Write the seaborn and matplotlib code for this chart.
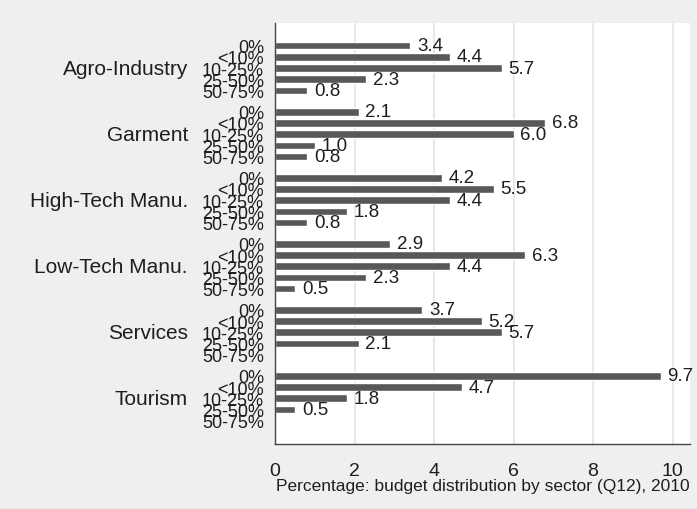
import numpy as np
import pandas as pd
import matplotlib
matplotlib.use("Agg")
import matplotlib.pyplot as plt
import matplotlib.transforms as mtransforms
import seaborn as sns

sectors = ['Agro-Industry', 'Garment', 'High-Tech Manu.', 'Low-Tech Manu.', 'Services', 'Tourism']
buckets = ['0%', '<10%', '10-25%', '25-50%', '50-75%']

agro = [3.4, 4.4, 5.7, 2.3, 0.8]
garment = [2.1, 6.8, 6.0, 1.0, 0.8]
hightech = [4.2, 5.5, 4.4, 1.8, 0.8]
lowtech = [2.9, 6.3, 4.4, 2.3, 0.5]
services = [3.7, 5.2, 5.7, 2.1, np.nan]
tourism = [9.7, 4.7, 1.8, 0.5, np.nan]

values = [agro, garment, hightech, lowtech, services, tourism]

# layout: one slot per bucket, a small gap between sectors
period = len(buckets) + 0.9
rows = []
for g, sec in enumerate(sectors):
    for b, bk in enumerate(buckets):
        rows.append({'sector': sec, 'bucket': bk, 'value': values[g][b], 'pos': g * period + b})
df = pd.DataFrame(rows)

sns.set_style('white')
plt.rcParams['font.family'] = ['Liberation Sans', 'DejaVu Sans']

bg = '#efefef'
txt = '#1e1e1e'
fig = plt.figure(figsize=(6.97, 5.10), dpi=100, facecolor=bg)
ax = fig.add_axes([0.3946, 0.1275, 0.5954, 0.8255])
ax.set_facecolor('white')

sns.barplot(data=df.dropna(), x='value', y='pos', orient='y', native_scale=True,
            color='#585858', saturation=1, width=0.68, errorbar=None, ax=ax)
ax.bar_label(ax.containers[0], fmt='%.1f', padding=5, fontsize=13.5, color=txt)

ax.set_xlim(0, 10.44)
ax.set_ylim(df['pos'].max() + 2.08, -2.03)
ax.set_xticks([0, 2, 4, 6, 8, 10])
ax.set_yticks(df['pos'], df['bucket'])
ax.tick_params(axis='y', length=0, pad=8, labelsize=13, labelcolor=txt)
ax.tick_params(axis='x', length=5, width=1, color='#444444', pad=8, labelsize=14, labelcolor=txt)
ax.xaxis.grid(True, color='#e8e8e8', linewidth=1.5)
ax.set_axisbelow(True)
ax.set_xlabel('Percentage: budget distribution by sector (Q12), 2010', fontsize=12.5,
              color=txt, labelpad=-1)
ax.set_ylabel('')

for s in ['top', 'right']:
    ax.spines[s].set_visible(False)
for s in ['left', 'bottom']:
    ax.spines[s].set_color('#444444')
    ax.spines[s].set_linewidth(1)

trans = mtransforms.blended_transform_factory(ax.transAxes, ax.transData)
for g, sec in enumerate(sectors):
    ax.text(-0.21, g * period + 2, sec, transform=trans, ha='right', va='center',
            fontsize=15, color=txt)

fig.savefig('out.png', dpi=100, facecolor=bg)
